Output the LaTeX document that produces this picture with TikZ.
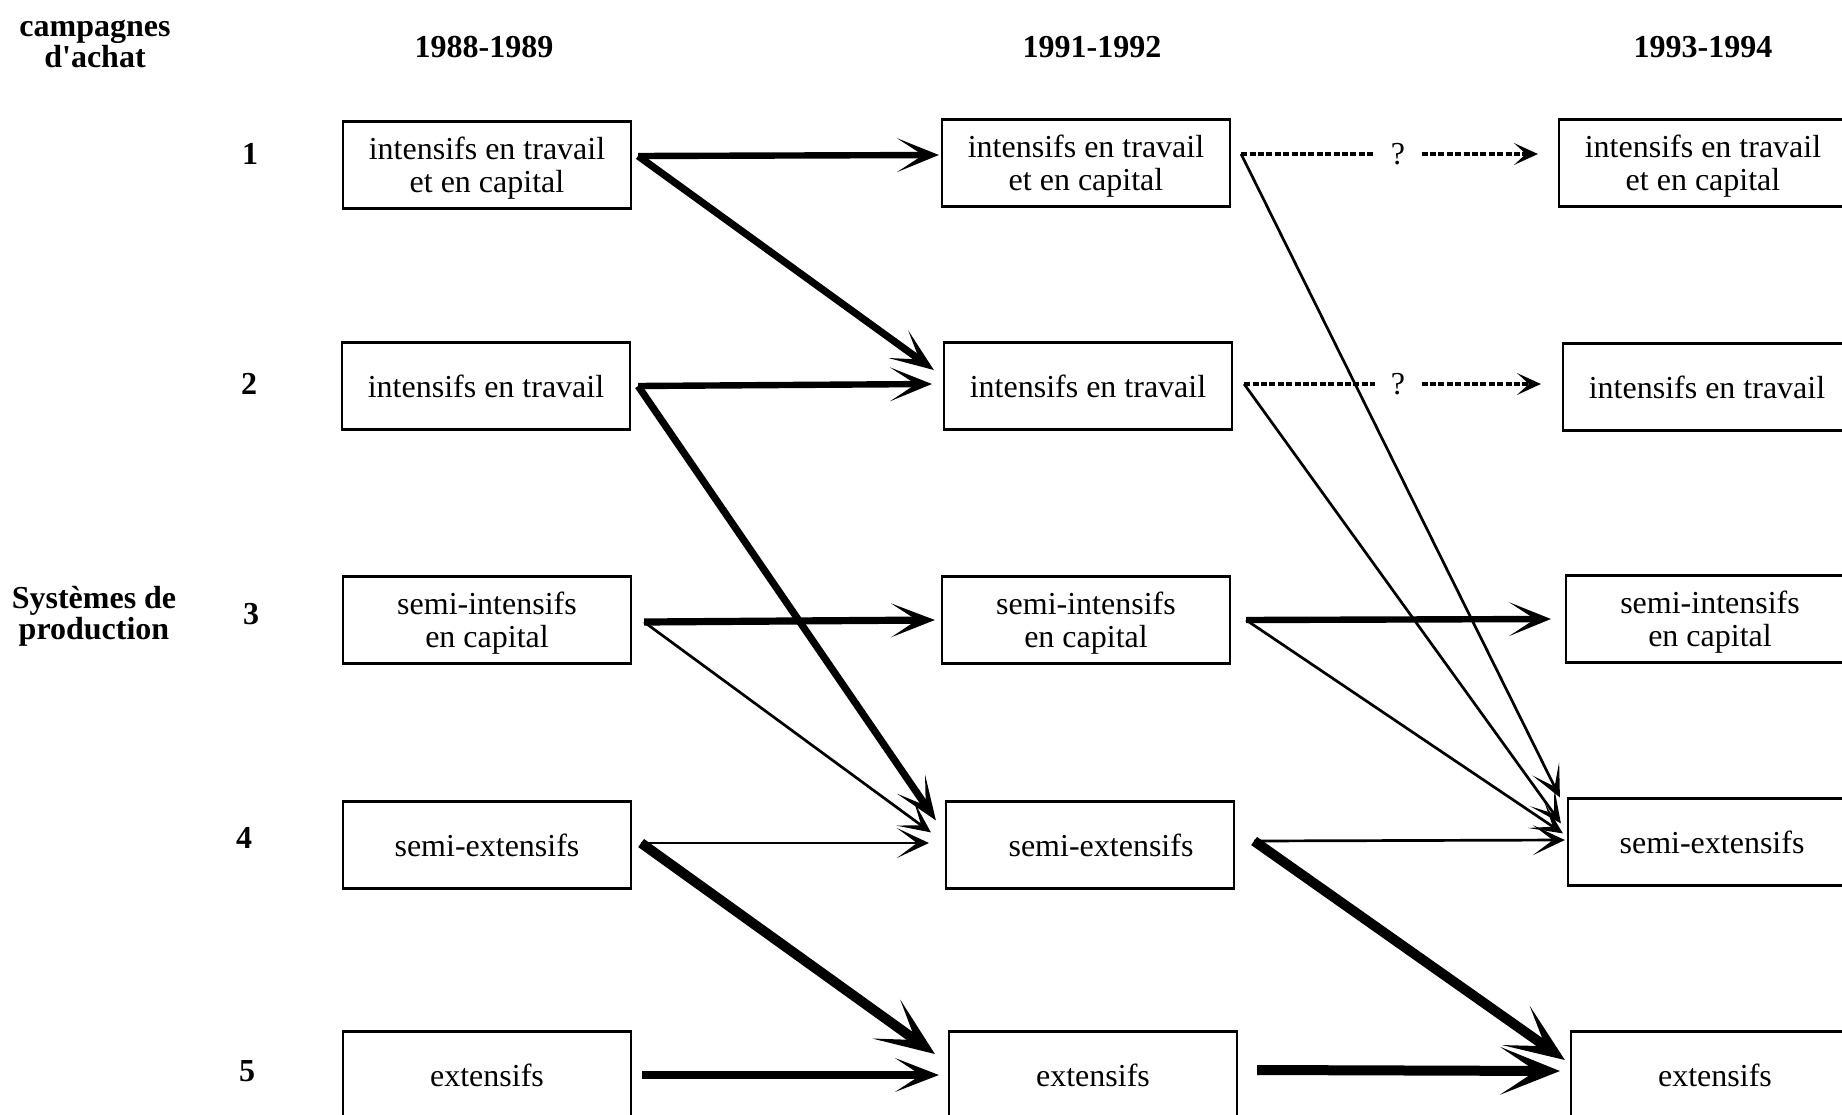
\documentclass[tikz,border=0pt]{standalone}
\usepackage{fontspec}
\setmainfont{Liberation Serif}[Ligatures=TeXOff]
\usetikzlibrary{arrows.meta}

\begin{document}
\begin{tikzpicture}[x=0.5pt,y=-0.5pt,
   sys/.style={draw,line width=1.1pt,minimum width=144pt,minimum height=43.5pt,inner sep=0pt,align=center,font=\fontsize{16}{16.5}\selectfont},
   hdr/.style={align=center,inner sep=0pt,font=\fontsize{16}{15.5}\selectfont\bfseries},
   qmark/.style={inner xsep=8pt,inner ysep=0pt,font=\fontsize{16}{16.5}\selectfont},
   flowthin/.style={line width=1.35pt,-{Stealth[length=16pt,width=15pt,inset=10pt,line width=0pt]}},
   flowmed/.style={line width=3.2pt,-{Stealth[length=21pt,width=17pt,inset=13pt,line width=0pt]}},
   flowthick/.style={line width=3.6pt,-{Stealth[length=22pt,width=17pt,inset=13pt,line width=0pt]}},
   flowheavy/.style={line width=5pt,-{Stealth[length=30pt,width=24pt,inset=18pt,line width=0pt]}},
   flowguess/.style={line width=1.6pt,dash pattern=on 3pt off 1.2pt}]
         \useasboundingbox (0,0) rectangle (1842,1114);
         \clip (0,0) rectangle (1842,1114);

         \node[hdr] (camp) at (95,44) {campagnes\\d'achat};
         \node[hdr] (y88) at (484,47) {1988-1989};
         \node[hdr] (y91) at (1092,47) {1991-1992};
         \node[hdr] (y93) at (1703,47) {1993-1994};
         \node[hdr] (prod) at (94,616) {Systèmes de\\production};
         \node[hdr] (n1) at (250,154) {1};
         \node[hdr] (n2) at (249,384) {2};
         \node[hdr] (n3) at (251,614) {3};
         \node[hdr] (n4) at (244,838) {4};
         \node[hdr] (n5) at (247,1071) {5};

         \node[sys] (a1) at (487,165) {\rule{0pt}{14pt}intensifs en travail\\et en capital};
         \node[sys] (a2) at (486,386) {intensifs en travail};
         \node[sys] (a3) at (487,620) {\rule{0pt}{14pt}semi-intensifs\\en capital};
         \node[sys] (a4) at (487,845) {semi-extensifs};
         \node[sys] (a5) at (487,1075) {extensifs};
         \node[sys] (b1) at (1086,163) {\rule{0pt}{14pt}intensifs en travail\\et en capital};
         \node[sys] (b2) at (1088,386) {intensifs en travail};
         \node[sys] (b3) at (1086,620) {\rule{0pt}{14pt}semi-intensifs\\en capital};
         \node[sys] (b4) at (1090,845) {\hspace*{11pt}semi-extensifs};
         \node[sys] (b5) at (1093,1075) {extensifs};
         \node[sys] (c1) at (1703,163) {\rule{0pt}{14pt}intensifs en travail\\et en capital};
         \node[sys] (c2) at (1707,387) {intensifs en travail};
         \node[sys] (c3) at (1710,619) {\rule{0pt}{14pt}semi-intensifs\\en capital};
         \node[sys] (c4) at (1712,842) {semi-extensifs};
         \node[sys] (c5) at (1715,1075) {extensifs};
         \node[qmark] (q1) at (1398,154) {?};
         \node[qmark] (q2) at (1398,384) {?};

         \draw[flowmed] ([xshift=3pt,yshift=4.5pt]a1.east) -- ([xshift=-1pt,yshift=4pt]b1.west);
         \draw[flowthick] ([xshift=3pt,yshift=4.5pt]a1.east) -- ([xshift=-4.5pt,yshift=8pt]b2.west);
         \draw[flowmed] ([xshift=3.5pt]a2.east) -- ([xshift=-5.5pt,yshift=1pt]b2.west);
         \draw[flowthick] ([xshift=3.5pt]a2.east) -- ([xshift=-4.5pt,yshift=-10pt]b4.north west);
         \draw[flowthick] ([xshift=6pt,yshift=-1pt]a3.east) -- ([xshift=-3pt]b3.west);
         \draw[flowthin] ([xshift=6pt,yshift=-1pt]a3.east) -- ([xshift=-7pt,yshift=-16pt]b4.north west);
         \draw[flowthin] ([xshift=4.5pt,yshift=1pt]a4.east) -- ([xshift=-8pt,yshift=1pt]b4.west);
         \draw[flowheavy] ([xshift=4.5pt,yshift=1pt]a4.east) -- ([xshift=-6.5pt,yshift=10.5pt]b5.west);
         \draw[flowthick] ([xshift=5pt]a5.east) -- ([xshift=-4.5pt]b5.west);

         \draw[flowguess] ([xshift=5pt,yshift=4.5pt]b1.east) -- (q1);
         \draw[flowguess,-{Stealth[length=12pt,width=11pt,inset=6pt,line width=0pt]}] (q1) -- ([xshift=-10pt,yshift=4.5pt]c1.west);
         \draw[flowguess] ([xshift=5.5pt,yshift=1pt]b2.east) -- (q2);
         \draw[flowguess,-{Stealth[length=12pt,width=11pt,inset=6pt,line width=0pt]}] (q2) -- ([xshift=-10.5pt,yshift=1.5pt]c2.west);
         \draw[flowthin] ([xshift=5pt,yshift=4.5pt]b1.east) -- ([xshift=-3.5pt]c4.north west);
         \draw[flowthin] ([xshift=5.5pt,yshift=1pt]b2.east) -- ([xshift=-3pt,yshift=-13pt]c4.north west);
         \draw[flowmed] ([xshift=7.5pt]b3.east) -- ([xshift=-7pt]c3.west);
         \draw[flowthin] ([xshift=7.5pt]b3.east) -- ([xshift=-2pt,yshift=-18pt]c4.north west);
         \draw[flowthin] ([xshift=9.5pt,yshift=2pt]b4.east) -- ([xshift=-1pt,yshift=1pt]c4.west);
         \draw[flowheavy] ([xshift=9.5pt,yshift=2pt]b4.east) -- ([xshift=-2.5pt,yshift=7.5pt]c5.west);
         \draw[flowheavy] ([xshift=9.5pt,yshift=2.5pt]b5.east) -- ([xshift=-5pt,yshift=2pt]c5.west);
      \end{tikzpicture}
\end{document}
